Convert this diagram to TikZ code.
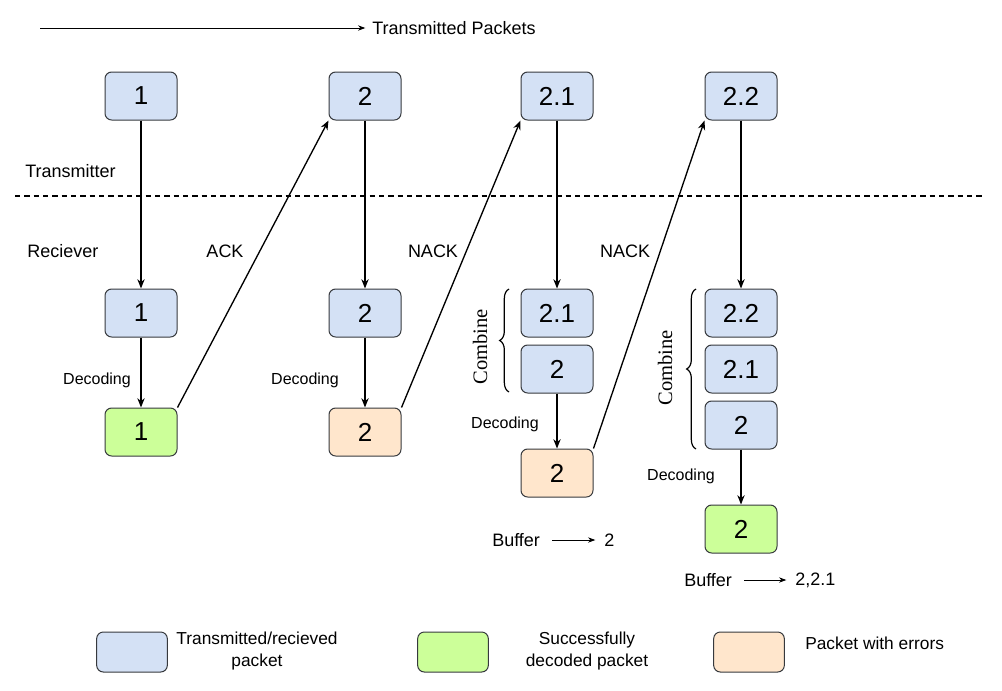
\documentclass[tikz,border=0pt]{standalone}
\usepackage{fontspec}
\setmainfont{Liberation Sans}
\newfontfamily\serifB{Liberation Serif}
\usetikzlibrary{arrows.meta,decorations.pathreplacing}
\definecolor{pblue}{HTML}{D4E1F5}
\definecolor{pgreen}{HTML}{CCFF99}
\definecolor{porange}{HTML}{FFE6CC}
\definecolor{pborder}{HTML}{36393D}
\tikzset{
  pkt/.style={draw=pborder, line width=0.75pt, rounded corners=5pt, minimum width=54pt, minimum height=36pt, inner sep=0pt, font=\fontsize{19.5}{20}\selectfont},
  legbox/.style={draw=pborder, line width=0.75pt, rounded corners=5pt, minimum width=53pt, minimum height=30pt, inner sep=0pt},
  lbl/.style={font=\fontsize{13.5}{15}\selectfont, inner sep=0pt},
  dec/.style={font=\fontsize{12}{14}\selectfont, inner sep=0pt},
  leg/.style={font=\fontsize{13}{16.5}\selectfont, inner sep=0pt, align=center},
  comb/.style={font=\serifB\fontsize{15.4}{17}\selectfont, inner sep=0pt, rotate=90},
  conn/.style={line width=1pt, -{Stealth[length=7pt,width=5.5pt]}},
  thin/.style={line width=0.75pt, -{Stealth[length=5.5pt,width=4pt]}},
  brc/.style={line width=0.9pt, decorate, decoration={brace, amplitude=7pt}}
}
\begin{document}
\begin{tikzpicture}[x=0.75pt, y=-0.75pt]
\useasboundingbox (0,0) rectangle (1002,690);
% top legend arrow
\coordinate (ta) at (40,28);
\node[lbl, anchor=west] (tp) at (372,28) {Transmitted Packets};
\draw[thin, shorten >=5pt] (ta) -- (tp.west);
% dashed divider
\coordinate (dl) at (15,196);
\coordinate (dr) at (985,196);
\draw[line width=1pt, dash pattern=on 4pt off 3pt] (dl) -- (dr);
\node[lbl, anchor=west] (tx) at (25,171) {Transmitter};
\node[lbl, anchor=west] (rx) at (27,251) {Reciever};
% transmitter row
\node[pkt, fill=pblue] (t1) at (141,96) {1};
\node[pkt, fill=pblue] (t2) at (365,96) {2};
\node[pkt, fill=pblue] (t21) at (557,96) {2.1};
\node[pkt, fill=pblue] (t22) at (741,96) {2.2};
% receiver col 1
\node[pkt, fill=pblue] (r1) at (141,313) {1};
\node[pkt, fill=pgreen] (d1) at (141,432) {1};
% col 2
\node[pkt, fill=pblue] (r2) at (365,313) {2};
\node[pkt, fill=porange] (d2) at (365,432) {2};
% col 3
\node[pkt, fill=pblue] (c3a) at (557,313) {2.1};
\node[pkt, fill=pblue] (c3b) at (557,369) {2};
\node[pkt, fill=porange] (d3) at (557,473) {2};
% col 4
\node[pkt, fill=pblue] (c4a) at (741,313) {2.2};
\node[pkt, fill=pblue] (c4b) at (741,369) {2.1};
\node[pkt, fill=pblue] (c4c) at (741,425) {2};
\node[pkt, fill=pgreen] (d4) at (741,529) {2};
% connectors
\draw[conn] (t1) -- (r1);
\draw[conn] (r1) -- (d1);
\draw[conn] (d1.north east) -- (t2.south west);
\draw[conn] (t2) -- (r2);
\draw[conn] (r2) -- (d2);
\draw[conn] (d2.north east) -- (t21.south west);
\draw[conn] (t21) -- (c3a);
\draw[conn] (c3b) -- (d3);
\draw[conn] (d3.north east) -- (t22.south west);
\draw[conn] (t22) -- (c4a);
\draw[conn] (c4c) -- (d4);
% labels
\node[lbl] (ack) at (225,251) {ACK};
\node[lbl] (nack1) at (433,251) {NACK};
\node[lbl] (nack2) at (625,251) {NACK};
\node[dec] (dc1) at (97,380) {Decoding};
\node[dec] (dc2) at (305,380) {Decoding};
\node[dec] (dc3) at (505,424) {Decoding};
\node[dec] (dc4) at (681,476) {Decoding};
% braces
\coordinate (b3b) at (509,392);
\coordinate (b3t) at (509,289);
\draw[brc] (b3b) -- (b3t);
\node[comb] (cb3) at (480,347) {Combine};
\coordinate (b4b) at (696,449);
\coordinate (b4t) at (696,289);
\draw[brc] (b4b) -- (b4t);
\node[comb] (cb4) at (665,368) {Combine};
% buffers
\node[lbl, anchor=west] (bf3) at (492,540) {Buffer};
\node[lbl, anchor=west] (bv3) at (604,540) {2};
\draw[thin, shorten >=6.5pt] ([xshift=9pt]bf3.east) -- (bv3.west);
\node[lbl, anchor=west] (bf4) at (684,580) {Buffer};
\node[lbl, anchor=west] (bv4) at (795,580) {2,2.1};
\draw[thin, shorten >=6.5pt] ([xshift=9pt]bf4.east) -- (bv4.west);
% legend
\node[legbox, fill=pblue] (lg1) at (132,652) {};
\node[leg] (lt1) at (257,651) {Transmitted/recieved\\packet};
\node[legbox, fill=pgreen] (lg2) at (453,652) {};
\node[leg] (lt2) at (587,651) {Successfully\\decoded packet};
\node[legbox, fill=porange] (lg3) at (749,652) {};
\node[leg, anchor=west] (lt3) at (805,643) {Packet with errors};
\end{tikzpicture}
\end{document}
